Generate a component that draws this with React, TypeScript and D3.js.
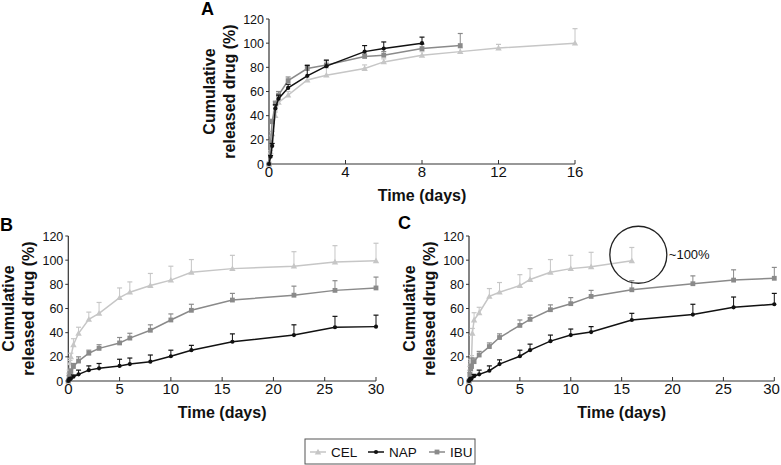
import React from "react";
import * as d3 from "d3";

// ---------- DATA ----------
const seriesNames = ["CEL", "NAP", "IBU"];

// Panel A
const tA_CEL = [0, 0.083, 0.167, 0.33, 0.5, 1, 2, 3, 5, 6, 8, 10, 12, 16];
const vA_CEL = [0, 10, 25, 40, 51, 57, 69.5, 73.5, 79, 84.5, 90, 93, 96, 100];
const sA_CEL = [0, 1, 2, 3, 2, 3, 2.5, 6, 3, 2.5, 3, 3, 3, 12];
const tA_NAP = [0, 0.083, 0.167, 0.33, 0.5, 1, 2, 3, 5, 6, 8];
const vA_NAP = [0, 6, 15, 46, 54, 63, 73, 81, 93, 95.5, 100];
const sA_NAP = [0, 1, 2, 3, 3, 3, 8.5, 5, 5, 5.5, 5];
const tA_IBU = [0, 0.083, 0.167, 0.33, 0.5, 1, 2, 3, 5, 6, 8, 10];
const vA_IBU = [0, 18, 35, 50, 57, 69, 79, 82, 89, 90, 95.5, 98];
const sA_IBU = [0, 1, 2, 2, 3, 3, 3, 3.5, 2, 3, 3.5, 10];

// Panel B
const tB = [0, 0.083, 0.167, 0.25, 0.5, 1, 2, 3, 5, 6, 8, 10, 12, 16, 22, 26, 30];
const vB_CEL = [0, 8, 15, 20, 30, 39.5, 51, 56, 69, 73.5, 79, 83.5, 90, 93, 95, 98.5, 99.5];
const sB_CEL = [0, 1, 2, 3, 5, 5, 6, 9, 8, 8.5, 10, 11.5, 10.5, 11, 12, 13.5, 14.5];
const vB_NAP = [0, 1, 1.5, 2, 3.5, 5.5, 9, 10.5, 12.5, 14, 16, 20.5, 25.5, 32.5, 38, 44.5, 45];
const sB_NAP = [0, 0.5, 1, 1, 1.5, 3.5, 3.5, 4, 5.5, 5, 5.5, 5, 4, 6.5, 8.5, 9, 9.5];
const vB_IBU = [0, 3.5, 6, 8, 12, 16.5, 23, 27, 31.5, 35.5, 42, 50.5, 58.5, 67, 71, 75, 77];
const sB_IBU = [0, 1, 1.5, 2, 2.5, 3.5, 2.5, 3, 4.5, 4, 4.5, 5, 5, 5.5, 7.5, 8, 9];

// Panel C
const tC_CEL = [0, 0.083, 0.167, 0.25, 0.33, 0.5, 1, 2, 3, 5, 6, 8, 10, 12, 16];
const vC_CEL = [0, 10, 15, 18, 39.5, 50.5, 56.5, 70, 73.5, 79, 84, 90, 93, 94.5, 99.5];
const sC_CEL = [0, 2, 3, 3, 4, 6, 4.5, 6.5, 8, 9, 9, 10.5, 11, 12, 11];
const tC = [0, 0.083, 0.167, 0.25, 0.5, 1, 2, 3, 5, 6, 8, 10, 12, 16, 22, 26, 30];
const vC_NAP = [0, 1, 1.5, 2, 4, 5.5, 8.5, 14, 20.5, 25.5, 33, 38, 40.5, 50.5, 55, 61, 63.5];
const sC_NAP = [0, 0.5, 1, 1, 1.5, 3.5, 4, 3.5, 5, 5, 5, 5, 4.5, 5.5, 8.5, 8.5, 9];
const vC_IBU = [0, 5, 10, 12, 16, 21.5, 28.5, 36, 46, 51, 59, 64, 70, 75.5, 80.5, 83.5, 85];
const sC_IBU = [0, 2, 4, 7, 3, 3, 3, 3, 4.5, 3.5, 4, 5, 5, 7.5, 6.5, 8.5, 9];

const xTicksA = [0, 4, 8, 12, 16];
const xTicksBC = [0, 5, 10, 15, 20, 25, 30];
const yTicks = [0, 20, 40, 60, 80, 100, 120];

const annotationText = "~100%";

// ---------- STYLE ----------
const COLORS: Record<string, string> = { CEL: "#c6c6c6", NAP: "#111111", IBU: "#8a8a8a" };
const FONT = "'Liberation Sans', Arial, Helvetica, sans-serif";
const AXIS = "#333";
const W = 781;

type S = { name: string; t: number[]; v: number[]; s: number[] };

function Marker({ name, x, y }: { name: string; x: number; y: number }) {
  const c = COLORS[name];
  if (name === "CEL") {
    const r = 3.2;
    return <path d={`M${x},${y - r}L${x + r},${y + r * 0.75}L${x - r},${y + r * 0.75}Z`} fill={c} />;
  }
  if (name === "IBU") {
    return <rect x={x - 2.4} y={y - 2.4} width={4.8} height={4.8} fill={c} />;
  }
  return <circle cx={x} cy={y} r={2.1} fill={c} />;
}

function Panel({
  letter, lx, ly, x0, x1, y0, y1, xmax, xticks, series, children,
}: {
  letter: string; lx: number; ly: number; x0: number; x1: number; y0: number; y1: number;
  xmax: number; xticks: number[]; series: S[]; children?: (x: any, y: any) => React.ReactNode;
}) {
  const x = d3.scaleLinear().domain([0, xmax]).range([x0, x1]);
  const y = d3.scaleLinear().domain([0, 120]).range([y0, y1]);
  const line = d3.line<[number, number]>().x((d) => x(d[0])).y((d) => y(d[1]));
  const cy = (y0 + y1) / 2;
  return (
    <g>
      <text x={lx} y={ly} fontFamily={FONT} fontWeight="bold" fontSize={18}>{letter}</text>
      {/* y axis */}
      <line x1={x0} x2={x0} y1={y0} y2={y1} stroke={AXIS} strokeWidth={1.2} />
      {yTicks.map((t) => (
        <g key={"y" + t}>
          <line x1={x0 - 3} x2={x0} y1={y(t)} y2={y(t)} stroke={AXIS} strokeWidth={1} />
          <text x={x0 - 5} y={y(t)} dy="0.36em" textAnchor="end" fontFamily={FONT} fontSize={12.5} fill="#111">{t}</text>
        </g>
      ))}
      {/* x axis */}
      <line x1={x0} x2={x1} y1={y0} y2={y0} stroke={AXIS} strokeWidth={1.2} />
      {xticks.map((t) => (
        <g key={"x" + t}>
          <line x1={x(t)} x2={x(t)} y1={y0} y2={y0 - 4} stroke={AXIS} strokeWidth={1} />
          <text x={Math.min(x(t), W - 9.5)} y={y0 + 13} textAnchor="middle" fontFamily={FONT} fontSize={15} fill="#111">{t}</text>
        </g>
      ))}
      <text x={(x0 + x1) / 2} y={y0 + 36.5} textAnchor="middle" fontFamily={FONT} fontWeight="bold" fontSize={16} fill="#111">Time (days)</text>
      <text transform={`translate(${x0 - 54},${cy}) rotate(-90)`} textAnchor="middle" fontFamily={FONT} fontWeight="bold" fontSize={16} fill="#111">Cumulative</text>
      <text transform={`translate(${x0 - 34},${cy}) rotate(-90)`} textAnchor="middle" fontFamily={FONT} fontWeight="bold" fontSize={16} fill="#111">released drug (%)</text>
      {series.map((s) => {
        const pts: [number, number][] = s.t.map((t, i) => [t, s.v[i]]);
        const c = COLORS[s.name];
        return (
          <g key={s.name}>
            {s.t.map((t, i) =>
              s.s[i] > 0 ? (
                <g key={i}>
                  <line x1={x(t)} x2={x(t)} y1={y(s.v[i])} y2={y(s.v[i] + s.s[i])} stroke={c} strokeWidth={1} />
                  <line x1={x(t) - 2.5} x2={x(t) + 2.5} y1={y(s.v[i] + s.s[i])} y2={y(s.v[i] + s.s[i])} stroke={c} strokeWidth={1.2} />
                </g>
              ) : null
            )}
            <path d={line(pts) || ""} fill="none" stroke={c} strokeWidth={1.5} />
            {pts.map((p, i) => <Marker key={i} name={s.name} x={x(p[0])} y={y(p[1])} />)}
          </g>
        );
      })}
      {children ? children(x, y) : null}
    </g>
  );
}

export default function App() {
  const seriesA: S[] = [
    { name: "CEL", t: tA_CEL, v: vA_CEL, s: sA_CEL },
    { name: "IBU", t: tA_IBU, v: vA_IBU, s: sA_IBU },
    { name: "NAP", t: tA_NAP, v: vA_NAP, s: sA_NAP },
  ];
  const seriesB: S[] = [
    { name: "CEL", t: tB, v: vB_CEL, s: sB_CEL },
    { name: "IBU", t: tB, v: vB_IBU, s: sB_IBU },
    { name: "NAP", t: tB, v: vB_NAP, s: sB_NAP },
  ];
  const seriesC: S[] = [
    { name: "CEL", t: tC_CEL, v: vC_CEL, s: sC_CEL },
    { name: "IBU", t: tC, v: vC_IBU, s: sC_IBU },
    { name: "NAP", t: tC, v: vC_NAP, s: sC_NAP },
  ];
  const legendX = [310, 368, 429];
  return (
    <svg width={781} height={465} style={{ position: "absolute", left: 0, top: 0, background: "#fff" }}>
      <rect width={781} height={465} fill="#fff" />
      <Panel letter="A" lx={201} ly={15} x0={269} x1={575} y0={164} y1={19} xmax={16} xticks={xTicksA} series={seriesA} />
      <Panel letter="B" lx={0} ly={231} x0={68.3} x1={376} y0={381} y1={236} xmax={30} xticks={xTicksBC} series={seriesB} />
      <Panel letter="C" lx={398} ly={229} x0={469} x1={774.3} y0={381} y1={236} xmax={30} xticks={xTicksBC} series={seriesC}>
        {(x: any, y: any) => (
          <g>
            <circle cx={x(16) + 6.5} cy={y(104.5)} r={28.5} fill="none" stroke="#222" strokeWidth={1.3} />
            <text x={x(16) + 37} y={y(104.5)} dy="0.35em" fontFamily={FONT} fontSize={13} fill="#111">{annotationText}</text>
          </g>
        )}
      </Panel>
      {/* legend */}
      <rect x={305} y={439} width={170} height={25} fill="none" stroke="#555" strokeWidth={1} />
      {seriesNames.map((n, i) => (
        <g key={n}>
          <line x1={legendX[i]} x2={legendX[i] + 16} y1={452} y2={452} stroke={COLORS[n]} strokeWidth={1.5} />
          <Marker name={n} x={legendX[i] + 8} y={452} />
          <text x={legendX[i] + 21} y={452} dy="0.36em" fontFamily={FONT} fontSize={13.5} fill="#111">{n}</text>
        </g>
      ))}
    </svg>
  );
}
